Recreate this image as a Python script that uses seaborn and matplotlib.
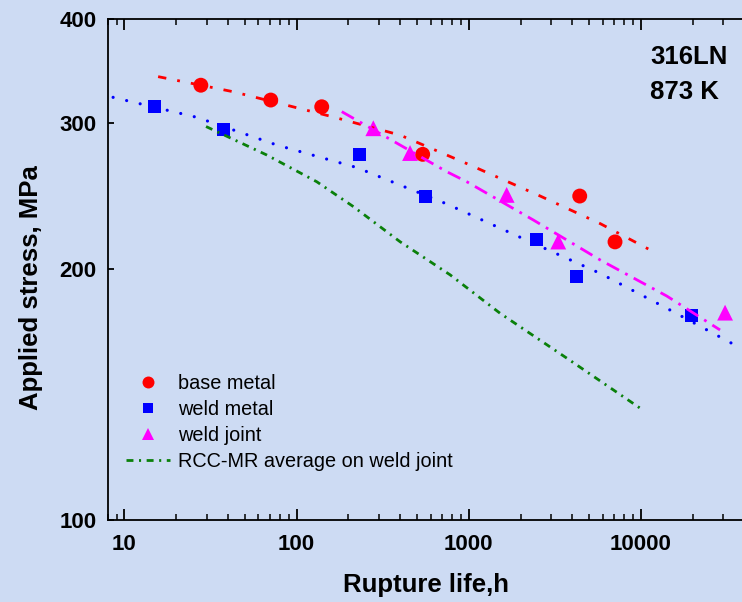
import numpy as np
import pandas as pd
import matplotlib
matplotlib.use("Agg")
import matplotlib.pyplot as plt
import seaborn as sns
from matplotlib.ticker import FixedLocator, NullLocator, LogLocator, FixedFormatter, NullFormatter
from matplotlib.lines import Line2D

# ---------------- data ----------------
base_t = [27.8, 70.8, 140, 540, 4410, 7070]
base_s = [333, 319.6, 313.7, 275, 245, 215.8]
weld_t = [14.9, 37.7, 232, 563, 2480, 4240, 19700]
weld_s = [313.7, 294.2, 274.8, 244.6, 217, 196, 175.8]
joint_t = [279, 456, 1660, 3310, 30800]
joint_s = [295.6, 276, 245.8, 216, 177.4]

base_fit_t = [15.7, 43, 163, 400, 975, 2600, 5800, 12100]
base_fit_s = [341, 327, 305, 290, 268, 245, 227, 209.5]
weld_fit_t = [8.6, 26.3, 76.7, 224, 745, 2370, 5790, 14100, 38600]
weld_fit_s = [322, 304.7, 282.2, 265.1, 239.7, 215, 197.8, 179.6, 160.5]
joint_fit_t = [183, 399, 745, 974, 2370, 5790, 14100, 28800]
joint_fit_s = [309.5, 282.2, 262.1, 254.9, 229.3, 205.3, 185.8, 169.1]
rcc_t = [29.8, 67.1, 131, 214, 399, 779, 1520, 3710, 9880]
rcc_s = [297, 274.5, 254.9, 237.9, 215.9, 197, 177.1, 156.4, 136.2]

labels = ["base metal", "weld metal", "weld joint", "RCC-MR average on weld joint"]
xticks = [10, 100, 1000, 10000]
xtick_labels = ["10", "100", "1000", "10000"]
yticks = [100, 200, 300, 400]
ytick_labels = ["100", "200", "300", "400"]

# ---------------- style ----------------
sns.set_style("ticks")
plt.rcParams['font.family'] = ['Liberation Sans', 'DejaVu Sans']
plt.rcParams['font.weight'] = 'bold'
plt.rcParams['text.color'] = 'black'
plt.rcParams['axes.labelcolor'] = 'black'
plt.rcParams['xtick.color'] = 'black'
plt.rcParams['ytick.color'] = 'black'
plt.rcParams['lines.scale_dashes'] = False
bg = '#cddbf3'

W, H = 742, 602
fig = plt.figure(figsize=(W / 100, H / 100), dpi=100, facecolor=bg)
x0, x1, y0, y1 = 107.7, 761.3, 19.0, 519.7
ax = fig.add_axes([x0 / W, (H - y1) / H, (x1 - x0) / W, (y1 - y0) / H])
ax.set_facecolor(bg)
ax.set_xscale('log')
ax.set_yscale('log')

RED, BLUE, MAG, GREEN = '#ff0000', '#0000ff', '#ff00ff', '#0a800a'
ls_red = (0, (6, 8, 2, 8))
ls_mag = (0, (10, 5, 2, 5))
ls_green = (0, (5, 4, 1.5, 4))
ls_blue = (0, (0.01, 10))

# points
sns.scatterplot(x=joint_t, y=joint_s, marker='^', s=130, color=MAG, edgecolor='none', ax=ax, zorder=3)
sns.scatterplot(x=base_t, y=base_s, marker='o', s=115, color=RED, edgecolor='none', ax=ax, zorder=3)
sns.scatterplot(x=weld_t, y=weld_s, marker='s', s=88, color=BLUE, edgecolor='none', ax=ax, zorder=3)

# fitted lines
sns.lineplot(x=base_fit_t, y=base_fit_s, sort=False, estimator=None, color=RED, lw=2,
             linestyle=ls_red, ax=ax, zorder=4)
sns.lineplot(x=weld_fit_t, y=weld_fit_s, sort=False, estimator=None, color=BLUE, lw=2.3,
             linestyle=ls_blue, solid_capstyle='round', dash_capstyle='round', ax=ax, zorder=4)
sns.lineplot(x=joint_fit_t, y=joint_fit_s, sort=False, estimator=None, color=MAG, lw=2,
             linestyle=ls_mag, ax=ax, zorder=4)
sns.lineplot(x=rcc_t, y=rcc_s, sort=False, estimator=None, color=GREEN, lw=2,
             linestyle=ls_green, ax=ax, zorder=4)

ax.set_xlim(8, 50000)
ax.set_ylim(100, 400)

ax.xaxis.set_major_locator(FixedLocator(xticks))
ax.xaxis.set_major_formatter(FixedFormatter(xtick_labels))
ax.xaxis.set_minor_locator(LogLocator(base=10, subs=np.arange(2, 10)))
ax.xaxis.set_minor_formatter(NullFormatter())
ax.yaxis.set_major_locator(FixedLocator(yticks))
ax.yaxis.set_major_formatter(FixedFormatter(ytick_labels))
ax.yaxis.set_minor_locator(NullLocator())

ax.tick_params(axis='x', which='major', direction='in', length=8, width=1.3,
               top=True, bottom=True, pad=10, labelsize=16, colors='black')
ax.tick_params(axis='x', which='minor', direction='in', length=4, width=1.1,
               top=True, bottom=True, colors='black')
ax.tick_params(axis='y', which='major', direction='in', length=4.5, width=1.3,
               left=True, right=False, pad=8, labelsize=16, colors='black')
for sp in ['left', 'bottom', 'top']:
    ax.spines[sp].set_visible(True)
    ax.spines[sp].set_linewidth(1.3)
    ax.spines[sp].set_color('black')
ax.spines['right'].set_visible(False)

ax.set_xlabel("Rupture life,h", fontsize=18.5, fontweight='bold', va='center', color='black')
ax.xaxis.set_label_coords((426 - x0) / (x1 - x0), (y1 - 585) / (y1 - y0))
ax.set_ylabel("Applied stress, MPa", fontsize=18.5, fontweight='bold', va='center', color='black')
ax.yaxis.set_label_coords((31 - x0) / (x1 - x0), (y1 - 288) / (y1 - y0))

fig.text(650 / W, 1 - 57 / H, "316LN", fontsize=18.5, fontweight='bold', ha='left', va='center', color='black')
fig.text(650 / W, 1 - 92 / H, "873 K", fontsize=18.5, fontweight='bold', ha='left', va='center', color='black')

handles = [
    Line2D([], [], marker='o', color=RED, linestyle='none', markersize=8.6, markeredgewidth=0),
    Line2D([], [], marker='s', color=BLUE, linestyle='none', markersize=7.2, markeredgewidth=0),
    Line2D([], [], marker='^', color=MAG, linestyle='none', markersize=9, markeredgewidth=0),
    Line2D([], [], color=GREEN, lw=2, linestyle=ls_green),
]
leg = ax.legend(handles=handles, labels=labels, loc='upper left',
                bbox_to_anchor=(126 / W, 1 - 374 / H), bbox_transform=fig.transFigure,
                frameon=False, borderpad=0, borderaxespad=0, handlelength=2.22,
                handletextpad=0.4, labelspacing=0.36,
                prop={'family': 'Liberation Sans', 'size': 14.3, 'weight': 'normal'})
for t in leg.get_texts():
    t.set_color('black')

fig.savefig("out.png", dpi=100, facecolor=bg)
